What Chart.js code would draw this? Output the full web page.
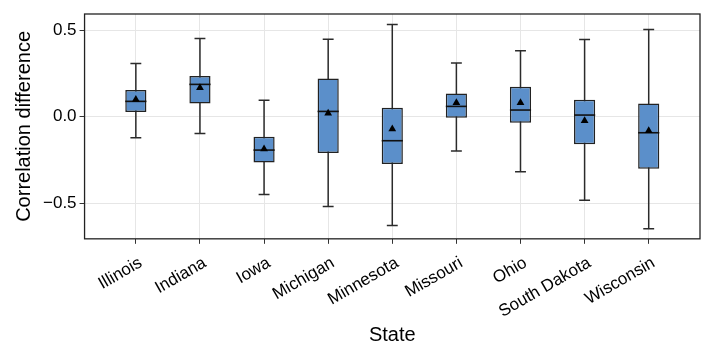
<!DOCTYPE html>
<html>
<head>
<meta charset="utf-8">
<script src="https://cdn.jsdelivr.net/npm/chart.js@4.4.1/dist/chart.umd.min.js"></script>
<style>
  html, body { margin: 0; padding: 0; background: #ffffff; }
  #wrap { width: 714px; height: 357px; position: relative; }
</style>
</head>
<body>
<div id="wrap"><canvas id="c" width="714" height="357"></canvas></div>
<script>
// ---- data ----
const states = ["Illinois", "Indiana", "Iowa", "Michigan", "Minnesota", "Missouri", "Ohio", "South Dakota", "Wisconsin"];
const whiskerLow  = [-0.121, -0.096, -0.448, -0.517, -0.627, -0.198, -0.317, -0.481, -0.646];
const q1          = [ 0.027,  0.077, -0.263, -0.209, -0.273, -0.006, -0.035, -0.159, -0.300];
const medians     = [ 0.089,  0.187, -0.192,  0.031, -0.138,  0.060,  0.039,  0.010, -0.092];
const q3          = [ 0.154,  0.235, -0.115,  0.221,  0.052,  0.135,  0.173,  0.098,  0.077];
const whiskerHigh = [ 0.308,  0.452,  0.096,  0.448,  0.533,  0.310,  0.381,  0.446,  0.504];
const means       = [ 0.100,  0.167, -0.186,  0.020, -0.071,  0.081,  0.081, -0.023, -0.081];
const yTickValues = [-0.5, 0.0, 0.5];

const FONT = "'Liberation Sans', Arial, Helvetica, sans-serif";
const CAP_WIDTH = 0.17; // in category units

const whiskerPlugin = {
  id: 'whiskers',
  beforeDatasetsDraw(chart) {
    const { ctx, scales: { x, y } } = chart;
    ctx.save();
    ctx.strokeStyle = '#2b2b2b';
    ctx.lineWidth = 1.5;
    states.forEach((s, i) => {
      const px = x.getPixelForValue(i);
      const half = (x.getPixelForValue(i + CAP_WIDTH / 2) - x.getPixelForValue(i - CAP_WIDTH / 2)) / 2;
      const yl = y.getPixelForValue(whiskerLow[i]);
      const yh = y.getPixelForValue(whiskerHigh[i]);
      ctx.beginPath();
      ctx.moveTo(px, yl); ctx.lineTo(px, yh);
      ctx.moveTo(px - half, yl); ctx.lineTo(px + half, yl);
      ctx.moveTo(px - half, yh); ctx.lineTo(px + half, yh);
      ctx.stroke();
    });
    ctx.restore();
  },
  afterDatasetDraw(chart, args) {
    if (args.meta.type !== 'bar') return;
    const { ctx, scales: { y } } = chart;
    ctx.save();
    ctx.strokeStyle = '#111';
    ctx.lineWidth = 1.6;
    args.meta.data.forEach((bar, i) => {
      const w = bar.width / 2;
      const py = y.getPixelForValue(medians[i]);
      ctx.beginPath();
      ctx.moveTo(bar.x - w, py); ctx.lineTo(bar.x + w, py);
      ctx.stroke();
    });
    ctx.restore();
  },
  afterDraw(chart) {
    const { ctx, chartArea: a } = chart;
    ctx.save();
    ctx.strokeStyle = '#222';
    ctx.lineWidth = 1.3;
    ctx.strokeRect(a.left, a.top, a.right - a.left, a.bottom - a.top);
    ctx.restore();
  }
};

new Chart(document.getElementById('c'), {
  type: 'bar',
  data: {
    datasets: [
      {
        type: 'bar',
        order: 2,
        data: states.map((s, i) => ({ x: i, y: [q1[i], q3[i]] })),
        backgroundColor: '#5b8fca',
        borderColor: '#222',
        borderWidth: 1.5,
        borderSkipped: false,
        barPercentage: 0.33,
        categoryPercentage: 1.0
      },
      {
        type: 'scatter',
        order: 1,
        data: states.map((s, i) => ({ x: i, y: means[i] })),
        pointStyle: 'triangle',
        pointRadius: 4.5,
        backgroundColor: '#000',
        borderColor: '#000',
        borderWidth: 0
      }
    ]
  },
  options: {
    responsive: false,
    animation: false,
    events: [],
    layout: { padding: { top: 14, right: 14, left: 8, bottom: 10 } },
    plugins: { legend: { display: false }, tooltip: { enabled: false } },
    scales: {
      x: {
        type: 'linear',
        min: -0.8,
        max: 8.8,
        offset: false,
        grid: { offset: false, color: '#e6e6e6', lineWidth: 1, drawTicks: true, tickLength: 5, tickColor: '#333' },
        border: { display: false },
        afterBuildTicks: (axis) => { axis.ticks = states.map((s, i) => ({ value: i })); },
        ticks: {
          autoSkip: false,
          minRotation: 30,
          maxRotation: 30,
          padding: 9,
          labelOffset: 5,
          color: '#000',
          font: { family: FONT, size: 17 },
          callback: (v) => states[Math.round(v)]
        },
        title: { display: true, text: 'State', color: '#000', font: { family: FONT, size: 20 }, padding: { top: -8, bottom: 0 } }
      },
      y: {
        type: 'linear',
        min: -0.704,
        max: 0.593,
        grid: { color: '#e6e6e6', lineWidth: 1, drawTicks: true, tickLength: 5, tickColor: '#333' },
        border: { display: false },
        afterBuildTicks: (axis) => { axis.ticks = yTickValues.map(v => ({ value: v })); },
        ticks: {
          color: '#000',
          font: { family: FONT, size: 17 },
          callback: (v) => (v < 0 ? '\u2212' : '') + Math.abs(v).toFixed(1)
        },
        title: { display: true, text: 'Correlation difference', color: '#000', font: { family: FONT, size: 20 }, padding: { bottom: 4 } }
      }
    }
  },
  plugins: [whiskerPlugin]
});
</script>
</body>
</html>
